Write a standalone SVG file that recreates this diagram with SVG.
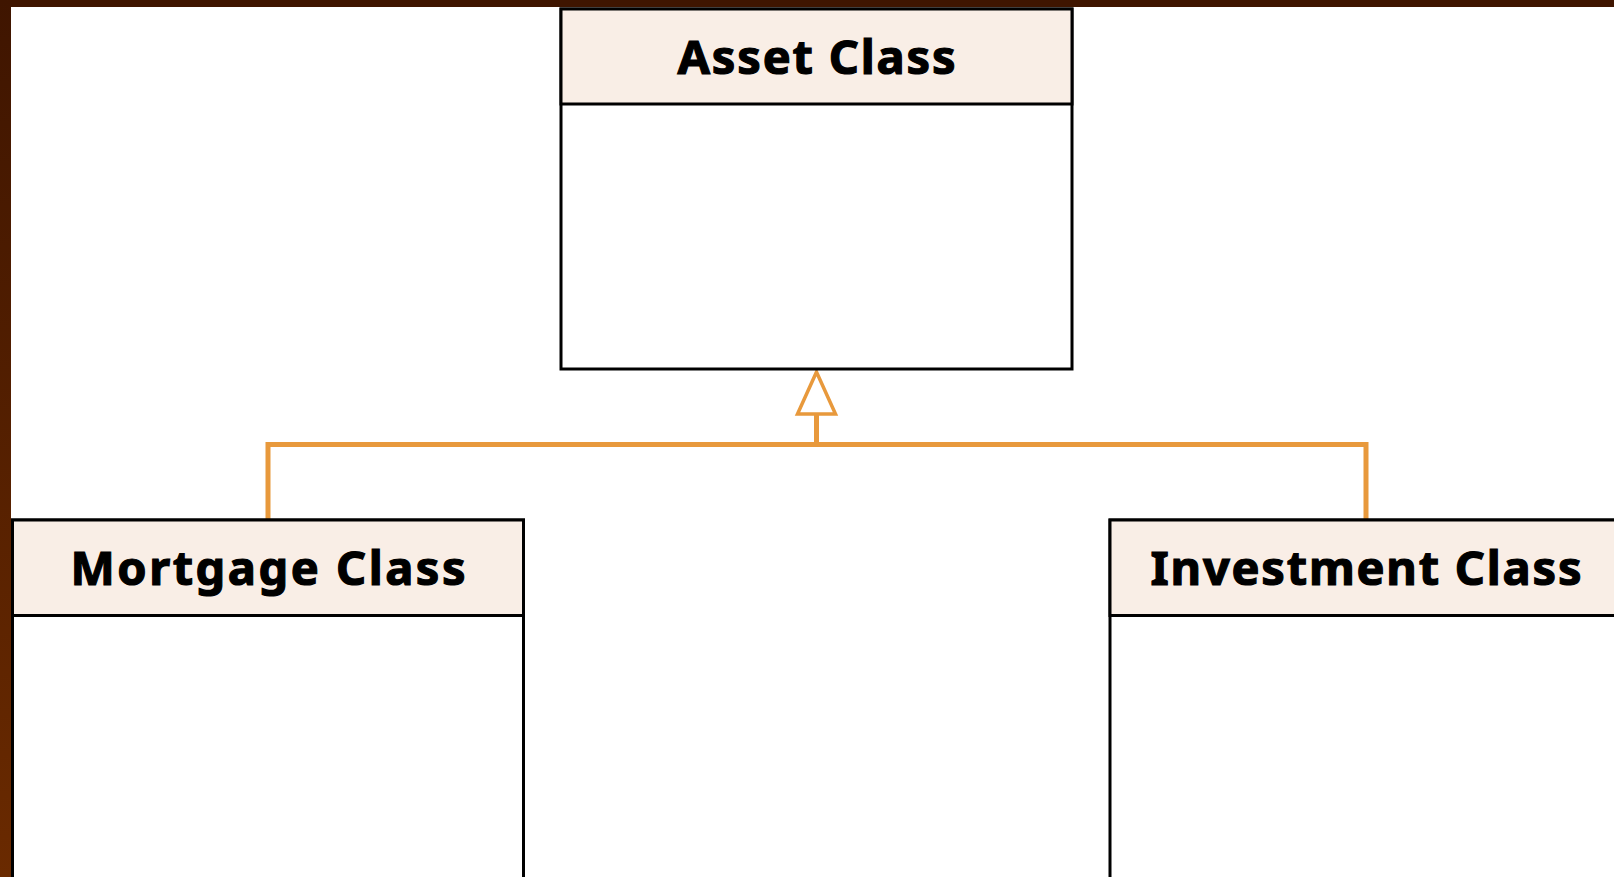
<svg xmlns="http://www.w3.org/2000/svg" width="1614" height="877" viewBox="0 0 1614 877">
  <defs>
    <linearGradient id="frameLeft" x1="0" y1="0" x2="0" y2="1">
      <stop offset="0" stop-color="#3f1500"/>
      <stop offset="1" stop-color="#6a2a00"/>
    </linearGradient>
    <style>
      .box { fill: #ffffff; stroke: #000000; stroke-width: 3; }
      .head { fill: #f9eee6; stroke: #000000; stroke-width: 3; }
      .title { font-family: "Noto Sans", "Open Sans", "Liberation Sans", sans-serif; font-weight: 700; font-size: 47px; fill: #000000; stroke: #000000; stroke-width: 1.2; text-anchor: middle; }
      .link { fill: none; stroke: #e8993c; stroke-width: 5; }
      .tri { fill: #ffffff; stroke: #e8993c; stroke-width: 3.5; stroke-linejoin: miter; }
    </style>
  </defs>

  <!-- page background and dark frame -->
  <rect x="0" y="0" width="1614" height="877" fill="#ffffff"/>
  <rect x="0" y="0" width="1614" height="7" fill="#3f1500"/>
  <rect x="0" y="0" width="11" height="877" fill="url(#frameLeft)"/>

  <!-- generalization connectors -->
  <g id="connectors">
    <path class="link" d="M268 520 V444.5 H1366 V520"/>
    <path class="link" d="M816.5 444.5 V414"/>
    <polygon class="tri" points="816.5,372 797.5,414 835.5,414"/>
  </g>

  <g id="asset-class">
    <rect class="box" x="561" y="9" width="511" height="360"/>
    <rect class="head" x="561" y="9" width="511" height="95"/>
    <text class="title" x="816.5" y="74" textLength="278" lengthAdjust="spacing">Asset Class</text>
  </g>

  <g id="mortgage-class">
    <rect class="box" x="12.5" y="520" width="511" height="370"/>
    <rect class="head" x="12.5" y="520" width="511" height="95.5"/>
    <text class="title" x="268" y="585" textLength="395" lengthAdjust="spacing">Mortgage Class</text>
  </g>

  <g id="investment-class">
    <rect class="box" x="1110" y="520" width="512" height="370"/>
    <rect class="head" x="1110" y="520" width="512" height="95.5"/>
    <text class="title" x="1366" y="585" textLength="431" lengthAdjust="spacing">Investment Class</text>
  </g>
</svg>
